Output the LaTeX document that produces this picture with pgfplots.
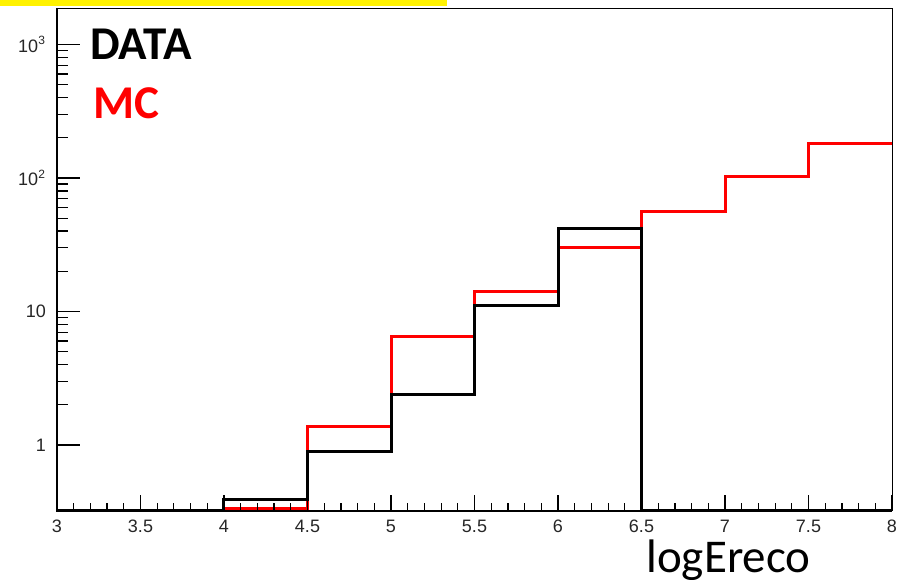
\documentclass[border=0pt]{standalone}
\usepackage{pgfplots}
\pgfplotsset{compat=1.18}
\usepackage{fontspec}
\setmainfont{Carlito}
\newfontfamily\tickfont{Liberation Sans}
\begin{document}
\begin{tikzpicture}
\useasboundingbox (-28.5pt,-34.15pt) rectangle (421pt,255.35pt);
\fill[yellow] (-28.5pt,252.5pt) rectangle (195pt,255.35pt);
\begin{axis}[
  at={(0pt,0pt)}, anchor=south west,
  scale only axis, width=417.5pt, height=251.2pt,
  ymode=log, xmin=3, xmax=8, ymin=0.322, ymax=1866,
  axis on top,
  axis line style={line width=0.5pt},
  tick align=inside, tick pos=left,
  tick label style={font=\tickfont\fontsize{9}{9}\selectfont, text=black!85},
  tick style={black, line width=0.6pt},
  /pgf/number format/assume math mode=true,
  xtick={3,3.5,4,4.5,5,5.5,6,6.5,7,7.5,8},
  xticklabels={3,3.5,4,4.5,5,5.5,6,6.5,7,7.5,8},
  minor x tick num=4,
  ytick=\empty, yminorticks=false,
  xticklabel style={yshift=-1pt},
  major tick length=7.8pt, minor tick length=4pt,
]
\addplot[const plot mark left, red, line width=1.5pt] coordinates {
  (3,0.322) (4,0.335) (4.5,1.37) (5,6.44) (5.5,14.0) (6,30.4) (6.5,56.0) (7,102) (7.5,182) (8,182)
};
\addplot[const plot mark left, black, line width=1.5pt] coordinates {
  (3,0.322) (4,0.39) (4.5,0.90) (5,2.37) (5.5,11.0) (6,41.5) (6.5,0.322) (8,0.322)
};
\end{axis}
\begin{axis}[
  at={(0pt,0pt)}, anchor=south west,
  scale only axis, width=417.5pt, height=251.2pt,
  ymode=log, xmin=3, xmax=8, ymin=0.322, ymax=1866,
  axis on top,
  axis line style={line width=0.5pt},
  tick align=inside, tick pos=left,
  tick label style={font=\tickfont\fontsize{9}{9}\selectfont, text=black!85},
  tick style={black, line width=0.6pt},
  /pgf/number format/assume math mode=true,
  xtick=\empty, xminorticks=false,
  ytick={1,10,100,1000},
  yticklabels={1,10,10\textsuperscript{2},10\textsuperscript{3}},
  yticklabel style={xshift=-2pt},
  major tick length=11.5pt, minor tick length=5.5pt,
]
\addplot[draw=none] coordinates {(3,1) (8,1)};
\end{axis}
\draw[line width=1pt] (0pt,251.2pt) -- (0pt,0pt) -- (417.5pt,0pt);
\node[anchor=base west, inner sep=0pt, font=\fontsize{23.5}{23.5}\selectfont\bfseries] at (16.5pt,225.35pt) {DATA};
\node[anchor=base west, inner sep=0pt, text=red, font=\fontsize{23.5}{23.5}\selectfont\bfseries] at (18pt,195.85pt) {MC};
\node[anchor=base west, inner sep=0pt, font=\fontsize{23.5}{23.5}\selectfont] at (294.5pt,-31pt) {logEreco};
\end{tikzpicture}
\end{document}
